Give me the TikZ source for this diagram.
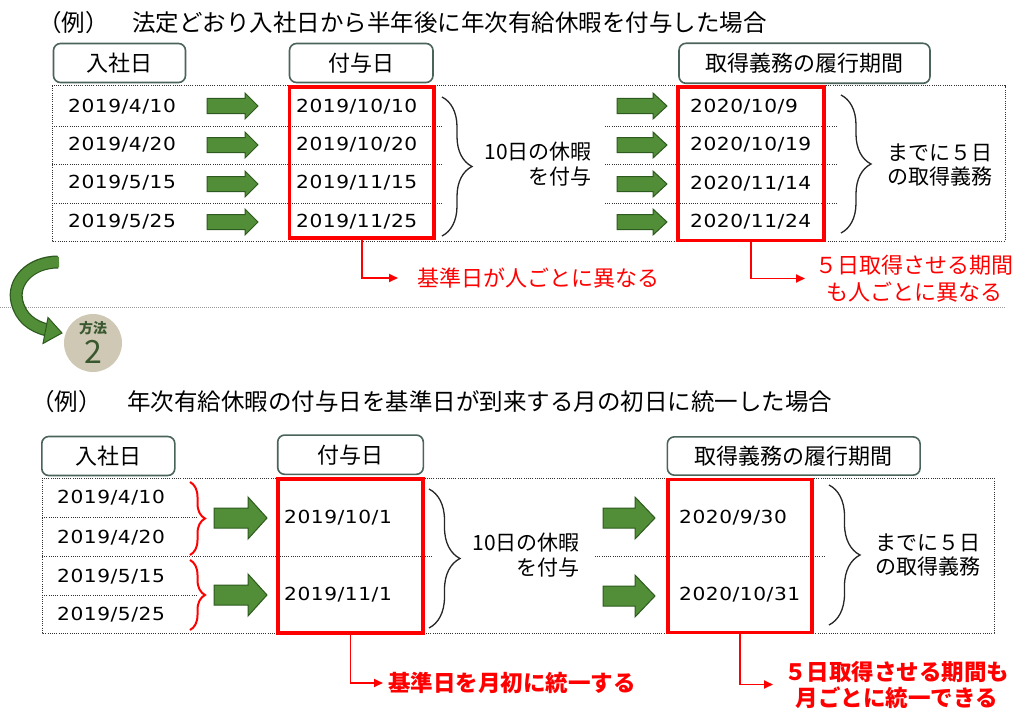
\documentclass[tikz,border=0pt]{standalone}
\usepackage{fontspec}
\setmainfont{Noto Sans CJK JP}
\newfontfamily\datefont[FakeStretch=1.12,LetterSpace=3]{DejaVu Sans}
\usetikzlibrary{decorations.pathreplacing,arrows.meta}
\definecolor{hdrc}{RGB}{75,100,90}
\definecolor{gfill}{RGB}{82,142,56}
\definecolor{gline}{RGB}{45,90,30}
\definecolor{circc}{RGB}{207,200,180}
\definecolor{circt}{RGB}{58,88,48}
\newcommand\grarrow[6]{\filldraw[garrowsty] ({#1},{#2-#4}) -- ({#1+#3-#6},{#2-#4}) -- ({#1+#3-#6},{#2-#5}) -- ({#1+#3},{#2}) -- ({#1+#3-#6},{#2+#5}) -- ({#1+#3-#6},{#2+#4}) -- ({#1},{#2+#4}) -- cycle;}
\tikzset{
  garrowsty/.style={fill=gfill, draw=gline, line width=1pt, line join=miter},
  hdr/.style={draw=hdrc, line width=1.6pt, rounded corners=7pt, fill=white, inner sep=0pt, font=\fontsize{22}{24}\selectfont},
  rbox/.style={draw=red, line width=3.6pt, inner sep=0pt},
  tbl/.style={draw=black!80, line width=1pt, dash pattern=on 1pt off 1.2pt},
  dt/.style={font=\datefont\fontsize{18}{20}\selectfont, inner sep=0pt, anchor=base west},
  jp/.style={font=\fontsize{21}{24.5}\selectfont, inner sep=0pt},
  ttl/.style={font=\fontsize{23.5}{26}\selectfont, inner sep=0pt, anchor=west},
  brc/.style={decorate, decoration={brace, amplitude=#1}, draw=black!85, line width=1.3pt},
  rbrc/.style={decorate, decoration={brace, amplitude=#1}, draw=red, line width=2pt},
  redtxt/.style={text=red, font=\fontsize{22}{27}\selectfont, inner sep=0pt, align=center},
  redbold/.style={text=red, font=\bfseries\fontsize{22.5}{26}\selectfont, inner sep=0pt, align=center},
  redcon/.style={draw=red, line width=1.8pt, -{Triangle[length=9pt,width=8pt]}},
}
\begin{document}
\begin{tikzpicture}[x=1pt,y=-1pt]
\useasboundingbox (0,0) rectangle (1018,709);
\fill[white] (0,0) rectangle (1018,709);

% ---------------- top section ----------------
\node[ttl] (ex1) at (38,23) {（例）};
\node[ttl] (title1) at (132,23) {法定どおり入社日から半年後に年次有給休暇を付与した場合};

% table
\draw[tbl] (52,86) rectangle (1005,241);
\foreach \yy in {126,164.5,203}{
  \draw[tbl] (52,\yy) -- (443,\yy);
  \draw[tbl] (605,\yy) -- (837,\yy);
}

% headers
\node[hdr, minimum width=132pt, minimum height=39pt] (h1) at (119.5,63) {入社日};
\node[hdr, minimum width=143.5pt, minimum height=39pt] (h2) at (361.25,63) {付与日};
\node[hdr, minimum width=251pt, minimum height=40pt] (h3) at (804.5,63.3) {取得義務の履行期間};

% dates
\node[dt] (a1) at (68,112.5) {2019/4/10};
\node[dt] (a2) at (68,150.5) {2019/4/20};
\node[dt] (a3) at (68,188.5) {2019/5/15};
\node[dt] (a4) at (68,227) {2019/5/25};
\node[dt] (b1) at (296,112.5) {2019/10/10};
\node[dt] (b2) at (296,150.5) {2019/10/20};
\node[dt] (b3) at (296,188.5) {2019/11/15};
\node[dt] (b4) at (296,227) {2019/11/25};
\node[dt] (c1) at (690,113) {2020/10/9};
\node[dt] (c2) at (690,150.5) {2020/10/19};
\node[dt] (c3) at (690,189) {2020/11/14};
\node[dt] (c4) at (690,227.5) {2020/11/24};

% green arrows
\foreach \yy in {106,145,184,222}{
  \grarrow{207}{\yy}{51}{7.5}{13}{13}
  \grarrow{617}{\yy}{50}{7.5}{13}{14}
}

% red boxes
\node[rbox, minimum width=144.5pt, minimum height=151pt] (r1) at (361.75,162.5) {};
\node[rbox, minimum width=146pt, minimum height=153.5pt] (r2) at (751,163.75) {};

% braces
\draw[brc=30pt] (442,97) -- (442,236);
\draw[brc=30pt] (841,95) -- (841,233);
\node[jp, align=right, anchor=east] (g1) at (592,164) {10日の休暇\\を付与};
\node[jp, align=left, anchor=west] (m1) at (887,165) {までに５日\\の取得義務};

% red notes
\node[redtxt, anchor=west] (t1) at (417,278) {基準日が人ごとに異なる};
\node[redtxt, anchor=west] (t2) at (815,278.5) {５日取得させる期間\\も人ごとに異なる};
\draw[redcon, shorten >=19pt] (r1.south) |- (t1.west);
\draw[redcon, shorten >=10pt] (r2.south) |- (t2.west);

% separator
\draw[draw=black!40, line width=0.8pt, dash pattern=on 1pt off 1pt] (0,307) -- (1005,307);

% curved arrow
\draw[gline, line width=13pt] (58,262) .. controls (30,262) and (12,282) .. (17,302) .. controls (21,318) and (32,326) .. (47,330);
\draw[gfill, line width=10.5pt] (59,262) .. controls (30,262) and (12,282) .. (17,302) .. controls (21,318) and (32,326) .. (47,330);
\filldraw[garrowsty] (48,317.5) -- (62,333) -- (43,343.5) -- cycle;

% circle badge
\node[circle, fill=circc, minimum size=58pt, inner sep=0pt] (badge) at (93,343) {};
\node[text=circt, font=\bfseries\fontsize{14}{14}\selectfont, inner sep=0pt] (hoho) at (93,328.5) {方法};
\node[text=circt, font=\fontsize{32}{32}\selectfont, inner sep=0pt] (two) at (93,352) {2};

% ---------------- bottom section ----------------
\node[ttl] (ex2) at (31,402) {（例）};
\node[ttl] (title2) at (127,402) {年次有給休暇の付与日を基準日が到来する月の初日に統一した場合};

\draw[tbl] (42,478) rectangle (994,633);
\draw[tbl] (42,517) -- (198,517);
\draw[tbl] (42,595) -- (198,595);
\draw[tbl] (42,556) -- (433,556);
\draw[tbl] (595,556) -- (825,556);

\node[hdr, minimum width=133pt, minimum height=39pt] (h4) at (108.3,456) {入社日};
\node[hdr, minimum width=145.6pt, minimum height=39.3pt] (h5) at (350.5,454.7) {付与日};
\node[hdr, minimum width=252.7pt, minimum height=38.3pt] (h6) at (793.7,456) {取得義務の履行期間};

\node[dt] (e1) at (57,503) {2019/4/10};
\node[dt] (e2) at (57,543) {2019/4/20};
\node[dt] (e3) at (57,582) {2019/5/15};
\node[dt] (e4) at (57,620) {2019/5/25};
\node[dt] (f1) at (284,523) {2019/10/1};
\node[dt] (f2) at (284,600) {2019/11/1};
\node[dt] (k1) at (679,523) {2020/9/30};
\node[dt] (k2) at (679,600) {2020/10/31};

\draw[rbrc=15pt] (190,482) -- (190,555);
\draw[rbrc=15pt] (190,560) -- (190,630);

\grarrow{214}{518}{53}{10}{21}{19}
\grarrow{214}{595}{53}{10}{21}{19}
\grarrow{603}{518}{52}{10}{21}{20}
\grarrow{603}{596}{52}{10}{21}{20}

\node[rbox, minimum width=145pt, minimum height=154pt] (r3) at (350.5,556) {};
\node[rbox, minimum width=144pt, minimum height=153pt] (r4) at (740,556) {};

\draw[brc=31pt] (429,489) -- (429,628);
\draw[brc=31pt] (829,485) -- (829,625);
\node[jp, align=right, anchor=east] (g2) at (580,555) {10日の休暇\\を付与};
\node[jp, align=left, anchor=west] (m2) at (875,555) {までに５日\\の取得義務};

\node[redbold, anchor=west] (t3) at (388,683) {基準日を月初に統一する};
\node[redbold, anchor=west] (t4) at (784,684.5) {５日取得させる期間も\\月ごとに統一できる};
\draw[redcon, shorten >=5pt] (r3.south) |- (t3.west);
\draw[redcon, shorten >=11pt] (r4.south) |- (t4.west);
\end{tikzpicture}
\end{document}
